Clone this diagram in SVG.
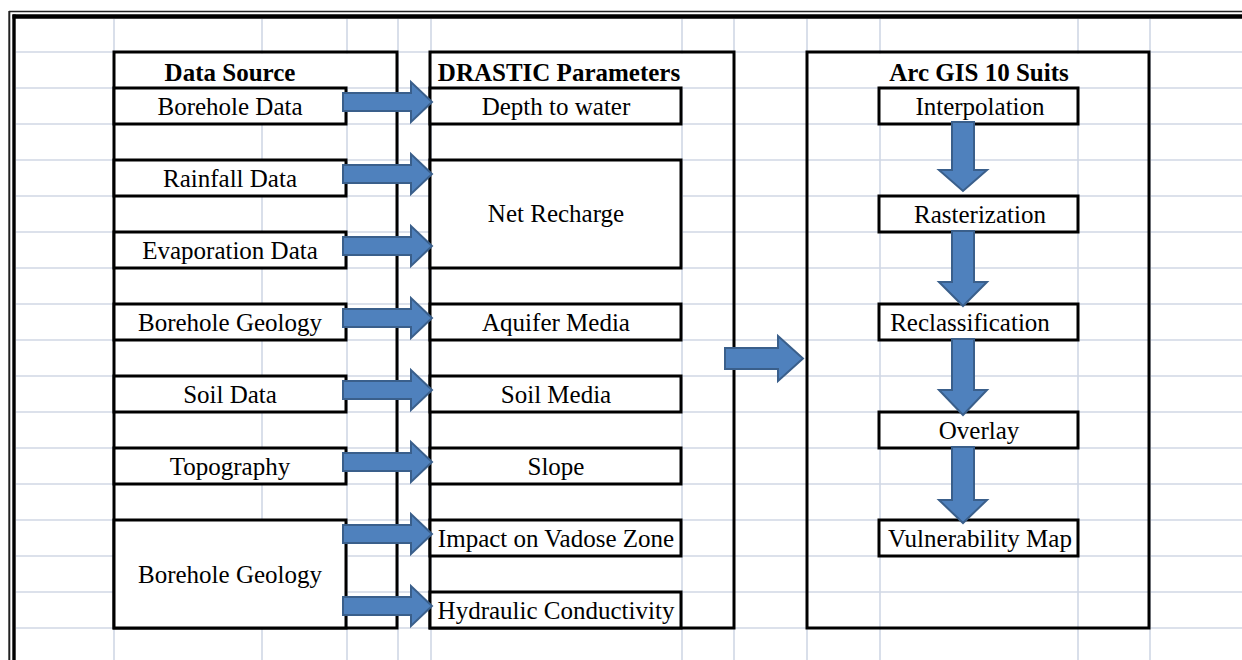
<svg xmlns="http://www.w3.org/2000/svg" xmlns:xlink="http://www.w3.org/1999/xlink" width="1242" height="660" viewBox="0 0 1242 660">
<style>
  .grid line { stroke: #d0d7e5; stroke-width: 1.6; }
  .box { fill: #ffffff; stroke: #000000; stroke-width: 3; }
  .outer { fill: none; stroke: #000000; stroke-width: 3; }
  .hdr { fill: #ffffff; stroke: none; }
  .t { font-family: "Liberation Serif", "Times New Roman", serif; font-size: 25px; fill: #000000; text-anchor: middle; }
  .b { font-weight: bold; }
  .arr { fill: #4f81bd; stroke: #3a5f8b; stroke-width: 2; stroke-linejoin: miter; }
</style>
<defs>
  <path id="rarrow" d="M343,-9 H411 V-20 L432,0 L411,20 V9 H343 Z"/>
</defs>
<rect x="0" y="0" width="1242" height="660" fill="#ffffff"/>
<g id="grid" class="grid">
  <line x1="16" y1="52" x2="1242" y2="52"/>
  <line x1="16" y1="88" x2="1242" y2="88"/>
  <line x1="16" y1="124" x2="1242" y2="124"/>
  <line x1="16" y1="160" x2="1242" y2="160"/>
  <line x1="16" y1="196" x2="1242" y2="196"/>
  <line x1="16" y1="232" x2="1242" y2="232"/>
  <line x1="16" y1="268" x2="1242" y2="268"/>
  <line x1="16" y1="304" x2="1242" y2="304"/>
  <line x1="16" y1="340" x2="1242" y2="340"/>
  <line x1="16" y1="376" x2="1242" y2="376"/>
  <line x1="16" y1="412" x2="1242" y2="412"/>
  <line x1="16" y1="448" x2="1242" y2="448"/>
  <line x1="16" y1="484" x2="1242" y2="484"/>
  <line x1="16" y1="520" x2="1242" y2="520"/>
  <line x1="16" y1="556" x2="1242" y2="556"/>
  <line x1="16" y1="592" x2="1242" y2="592"/>
  <line x1="16" y1="628" x2="1242" y2="628"/>
  <line x1="114" y1="19" x2="114" y2="660"/>
  <line x1="262" y1="19" x2="262" y2="660"/>
  <line x1="347" y1="19" x2="347" y2="660"/>
  <line x1="398" y1="19" x2="398" y2="660"/>
  <line x1="431" y1="19" x2="431" y2="660"/>
  <line x1="682" y1="19" x2="682" y2="660"/>
  <line x1="734" y1="19" x2="734" y2="660"/>
  <line x1="807" y1="19" x2="807" y2="660"/>
  <line x1="880" y1="19" x2="880" y2="660"/>
  <line x1="1078" y1="19" x2="1078" y2="660"/>
  <line x1="1150" y1="19" x2="1150" y2="660"/>
</g>
<g id="frame">
  <line x1="9" y1="11.5" x2="1242" y2="11.5" stroke="#222" stroke-width="1.6"/>
  <line x1="9.3" y1="11" x2="9.3" y2="660" stroke="#222" stroke-width="2"/>
  <line x1="12.5" y1="16.5" x2="1242" y2="16.5" stroke="#000" stroke-width="4.5"/>
  <line x1="14" y1="14.5" x2="14" y2="660" stroke="#000" stroke-width="3.4"/>
</g>

<g id="data-source">
  <rect class="hdr" x="115.5" y="53.5" width="280" height="33"/>
  <text class="t b" x="230" y="81">Data Source</text>
  <rect class="outer" x="114" y="52" width="283" height="576"/>
</g>
<g id="borehole-data"><rect class="box" x="114" y="88" width="232" height="36"/><text class="t" x="230" y="115">Borehole Data</text></g>
<g id="rainfall-data"><rect class="box" x="114" y="160" width="232" height="36"/><text class="t" x="230" y="187">Rainfall Data</text></g>
<g id="evaporation-data"><rect class="box" x="114" y="232" width="232" height="36"/><text class="t" x="230" y="259">Evaporation Data</text></g>
<g id="borehole-geology-1"><rect class="box" x="114" y="304" width="232" height="36"/><text class="t" x="230" y="331">Borehole Geology</text></g>
<g id="soil-data"><rect class="box" x="114" y="376" width="232" height="36"/><text class="t" x="230" y="403">Soil Data</text></g>
<g id="topography"><rect class="box" x="114" y="448" width="232" height="36"/><text class="t" x="230" y="475">Topography</text></g>
<g id="borehole-geology-2"><rect class="box" x="114" y="520" width="232" height="108"/><text class="t" x="230" y="583">Borehole Geology</text></g>

<g id="drastic">
  <rect class="hdr" x="431.5" y="53.5" width="301" height="33"/>
  <text class="t b" x="559" y="81">DRASTIC Parameters</text>
  <rect class="outer" x="430" y="52" width="304" height="576"/>
</g>
<g id="depth-to-water"><rect class="box" x="430" y="88" width="251" height="36"/><text class="t" x="556" y="115">Depth to water</text></g>
<g id="net-recharge"><rect class="box" x="430" y="160" width="251" height="108"/><text class="t" x="556" y="222">Net Recharge</text></g>
<g id="aquifer-media"><rect class="box" x="430" y="304" width="251" height="36"/><text class="t" x="556" y="331">Aquifer Media</text></g>
<g id="soil-media"><rect class="box" x="430" y="376" width="251" height="36"/><text class="t" x="556" y="403">Soil Media</text></g>
<g id="slope"><rect class="box" x="430" y="448" width="251" height="36"/><text class="t" x="556" y="475">Slope</text></g>
<g id="impact-vadose"><rect class="box" x="430" y="520" width="251" height="36"/><text class="t" x="556" y="547">Impact on Vadose Zone</text></g>
<g id="hydraulic-conductivity"><rect class="box" x="430" y="592" width="251" height="36"/><text class="t" x="556" y="619">Hydraulic Conductivity</text></g>

<g id="arcgis">
  <rect class="hdr" x="808.5" y="53.5" width="339" height="33"/>
  <text class="t b" x="979" y="81">Arc GIS 10 Suits</text>
  <rect class="outer" x="807" y="52" width="342" height="576"/>
</g>
<g id="interpolation"><rect class="box" x="879" y="88" width="199" height="36"/><text class="t" x="980" y="115">Interpolation</text></g>
<g id="rasterization"><rect class="box" x="879" y="196" width="199" height="36"/><text class="t" x="980" y="223">Rasterization</text></g>
<g id="reclassification"><rect class="box" x="879" y="304" width="199" height="36"/><text class="t" x="970" y="331">Reclassification</text></g>
<g id="overlay"><rect class="box" x="879" y="412" width="199" height="36"/><text class="t" x="979" y="439">Overlay</text></g>
<g id="vulnerability-map"><rect class="box" x="879" y="520" width="199" height="36"/><text class="t" x="980" y="547">Vulnerability Map</text></g>

<g id="connectors">
  <use xlink:href="#rarrow" class="arr" transform="translate(0,102)"/>
  <use xlink:href="#rarrow" class="arr" transform="translate(0,174)"/>
  <use xlink:href="#rarrow" class="arr" transform="translate(0,246)"/>
  <use xlink:href="#rarrow" class="arr" transform="translate(0,318)"/>
  <use xlink:href="#rarrow" class="arr" transform="translate(0,390)"/>
  <use xlink:href="#rarrow" class="arr" transform="translate(0,462)"/>
  <use xlink:href="#rarrow" class="arr" transform="translate(0,534)"/>
  <use xlink:href="#rarrow" class="arr" transform="translate(0,606)"/>
  <path class="arr" d="M725,348 H778 V336 L803,358.5 L778,381 V369 H725 Z"/>
  <path class="arr" d="M952,122 H974 V170 H987 L963,191 L939,170 H952 Z"/>
  <path class="arr" d="M952,231 H974 V282 H987 L963,306 L939,282 H952 Z"/>
  <path class="arr" d="M952,339 H974 V390 H987 L963,415 L939,390 H952 Z"/>
  <path class="arr" d="M952,447 H974 V500 H987 L963,523 L939,500 H952 Z"/>
</g>
</svg>
